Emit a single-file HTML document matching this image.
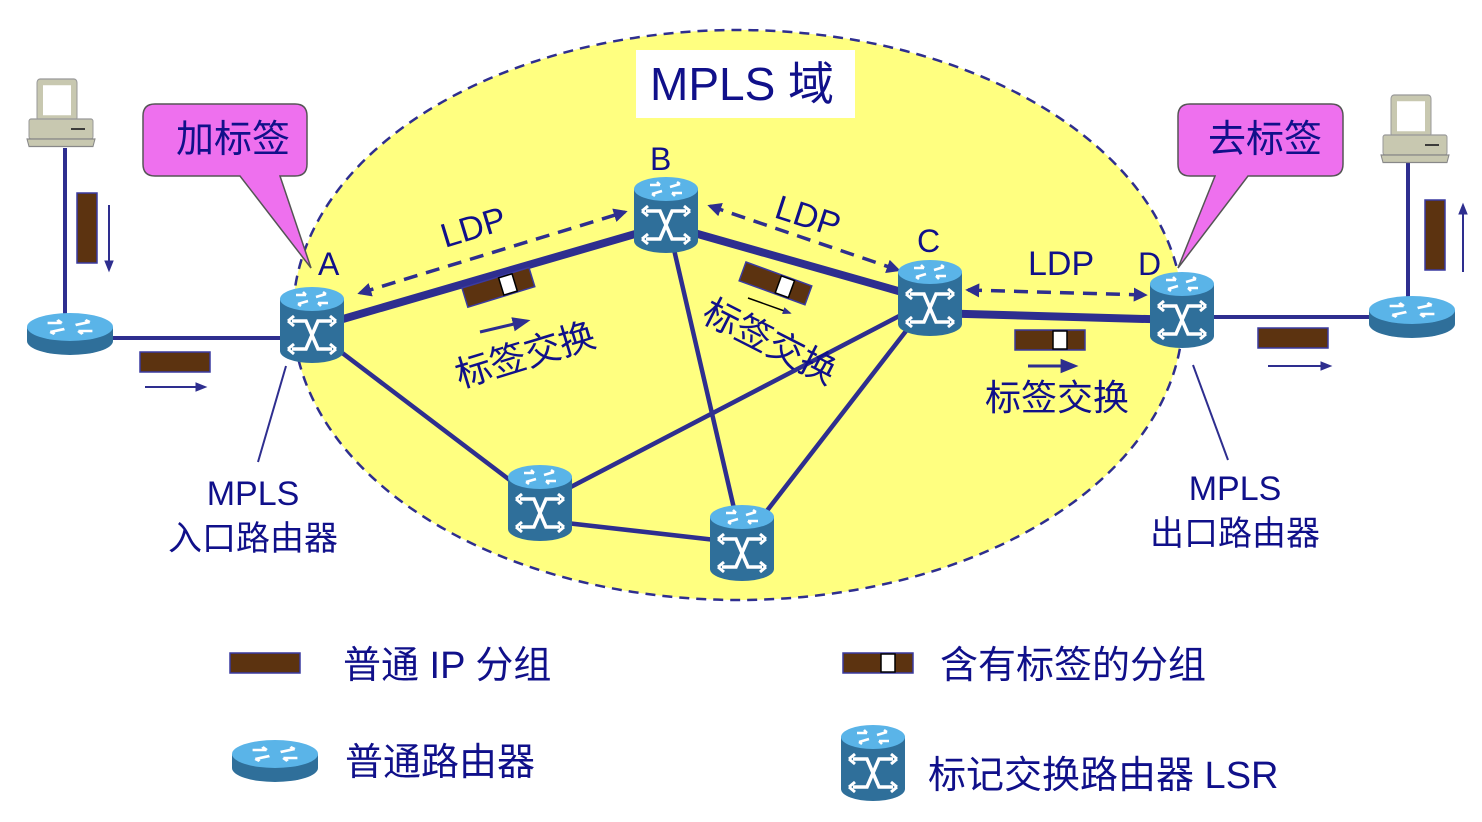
<!DOCTYPE html>
<html><head><meta charset="utf-8"><style>
html,body{margin:0;padding:0;background:#fff;}
svg{display:block;}
text{font-family:"Liberation Sans","Noto Sans CJK SC",sans-serif;fill:#10108a;}
</style></head><body>
<svg width="1482" height="822" viewBox="0 0 1482 822" xmlns="http://www.w3.org/2000/svg">
<defs>
<marker id="ah" viewBox="0 0 10 10" refX="8" refY="5" markerWidth="4" markerHeight="4" orient="auto-start-reverse"><path d="M0,0 L10,5 L0,10 z" fill="#2e2e8f"/></marker>
<marker id="ah2" viewBox="0 0 10 10" refX="8" refY="5" markerWidth="6" markerHeight="6" orient="auto-start-reverse"><path d="M0,1 L10,5 L0,9 z" fill="#2e2e8f"/></marker>
<g id="xarrows" fill="none" stroke="#fff" stroke-width="3.5">
  <path d="M-20,-14 L-6,-14 L6,14 L20,14 M-20,14 L-6,14 L6,-14 L20,-14"/>
  <path d="M-24,-14 l6,-5 M-24,-14 l6,5 M24,-14 l-6,-5 M24,-14 l-6,5 M-24,14 l6,-5 M-24,14 l6,5 M24,14 l-6,-5 M24,14 l-6,5" stroke-width="3"/>
</g>
<g id="topx" fill="none" stroke="#fff" stroke-width="2.5">
  <path d="M-16,-4 l10,0 M-6,-4 l-3,-3 M6,4 l10,0 M6,4 l3,3 M-14,5 l10,-3 M-14,5 l3,2 M14,-5 l-10,3 M14,-5 l-3,-2"/>
</g>
<g id="lsr">
  <path d="M-32,-26 L-32,26 A32,12 0 0 0 32,26 L32,-26 z" fill="#2f6f9a"/>
  <ellipse cx="0" cy="-26" rx="32" ry="12" fill="#5ab4e8"/>
  <use href="#topx" transform="translate(0,-26)"/>
  <use href="#xarrows" transform="translate(0,10)"/>
</g>
<g id="rtr">
  <path d="M-43,-6 L-43,8 A43,14 0 0 0 43,8 L43,-6 z" fill="#2f6f9a"/>
  <ellipse cx="0" cy="-6" rx="43" ry="14" fill="#5ab4e8"/>
  <use href="#topx" transform="translate(0,-6) scale(1.4,1)"/>
</g>
<g id="pc">
  <rect x="-24" y="-36" width="40" height="34" rx="3" fill="#c8c8b0" stroke="#999" />
  <rect x="-18" y="-31" width="28" height="24" fill="#fff"/>
  <rect x="-32" y="-4" width="64" height="16" rx="2" fill="#c8c8b0" stroke="#999"/>
  <line x1="10" y1="4" x2="24" y2="4" stroke="#333" stroke-width="1.5"/>
  <path d="M-34,12 L34,12 L32,18 L-32,18 z" fill="#c8c8b0" stroke="#888"/>
</g>
<g id="pkt"><rect x="0" y="0" width="70" height="20" fill="#5c3310" stroke="#3a3aa0" stroke-width="1.5"/></g>
<g id="lpkt"><rect x="0" y="0" width="70" height="20" fill="#5c3310" stroke="#3a3aa0" stroke-width="1.5"/><rect x="38" y="1" width="14" height="18" fill="#fff" stroke="#000" stroke-width="1.5"/></g>
</defs>

<ellipse cx="738" cy="315" rx="445" ry="285" fill="#ffff80" stroke="#2e2e8f" stroke-width="2.5" stroke-dasharray="10,7"/>
<rect x="636" y="50" width="219" height="68" fill="#fff"/>
<text x="650" y="100" font-size="46">MPLS 域</text>

<line x1="65" y1="148" x2="65" y2="318" stroke="#2e2e8f" stroke-width="4"/>
<line x1="110" y1="338" x2="290" y2="338" stroke="#2e2e8f" stroke-width="4"/>
<line x1="1408" y1="162" x2="1408" y2="300" stroke="#2e2e8f" stroke-width="4"/>
<line x1="1205" y1="317" x2="1375" y2="317" stroke="#2e2e8f" stroke-width="4"/>

<g stroke="#2e2e8f" stroke-width="4.5">
<line x1="312" y1="330" x2="540" y2="503"/>
<line x1="540" y1="503" x2="930" y2="300"/>
<line x1="666" y1="215" x2="742" y2="543"/>
<line x1="742" y1="543" x2="930" y2="300"/>
<line x1="540" y1="520" x2="742" y2="543"/>
</g>
<g stroke="#2e2e8f" stroke-width="8">
<line x1="312" y1="328" x2="666" y2="225"/>
<line x1="666" y1="225" x2="930" y2="300"/>
<line x1="930" y1="313" x2="1182" y2="320"/>
</g>

<line x1="258" y1="462" x2="286" y2="366" stroke="#2e2e8f" stroke-width="2"/>
<line x1="1228" y1="460" x2="1193" y2="365" stroke="#2e2e8f" stroke-width="2"/>

<g stroke="#2e2e8f" stroke-width="3.5" stroke-dasharray="14,9" fill="none">
<line x1="360" y1="293" x2="625" y2="212" marker-start="url(#ah)" marker-end="url(#ah)"/>
<line x1="710" y1="206" x2="898" y2="270" marker-start="url(#ah)" marker-end="url(#ah)"/>
<line x1="968" y1="290" x2="1145" y2="295" marker-start="url(#ah)" marker-end="url(#ah)"/>
</g>
<text font-size="34" transform="translate(445,248) rotate(-17)">LDP</text>
<text font-size="34" transform="translate(773,217) rotate(18)">LDP</text>
<text x="1028" y="275" font-size="34">LDP</text>

<use href="#lpkt" transform="translate(462,288) rotate(-17)"/>
<line x1="480" y1="332" x2="527" y2="321" stroke="#2e2e8f" stroke-width="3" marker-end="url(#ah2)"/>
<text font-size="36" transform="translate(460,388) rotate(-17)">标签交换</text>
<use href="#lpkt" transform="translate(746,262) rotate(20)"/>
<line x1="748" y1="298" x2="790" y2="313" stroke="#000" stroke-width="1.5" marker-end="url(#ah2)"/>
<text font-size="36" transform="translate(700,320) rotate(27)">标签交换</text>
<use href="#lpkt" transform="translate(1015,330)"/>
<line x1="1028" y1="366" x2="1075" y2="366" stroke="#2e2e8f" stroke-width="3" marker-end="url(#ah2)"/>
<text x="985" y="410" font-size="36">标签交换</text>

<use href="#pkt" transform="translate(97,193) rotate(90)"/>
<line x1="109" y1="205" x2="109" y2="270" stroke="#2e2e8f" stroke-width="2" marker-end="url(#ah2)"/>
<use href="#pkt" transform="translate(140,352)"/>
<line x1="145" y1="387" x2="205" y2="387" stroke="#2e2e8f" stroke-width="2" marker-end="url(#ah2)"/>
<use href="#pkt" transform="translate(1445,200) rotate(90)"/>
<line x1="1463" y1="272" x2="1463" y2="205" stroke="#2e2e8f" stroke-width="2" marker-end="url(#ah2)"/>
<use href="#pkt" transform="translate(1258,328)"/>
<line x1="1268" y1="366" x2="1330" y2="366" stroke="#2e2e8f" stroke-width="2" marker-end="url(#ah2)"/>

<use href="#pc" transform="translate(61,124) scale(1,1.25)"/>
<use href="#pc" transform="translate(1415,140) scale(1,1.25)"/>
<use href="#rtr" transform="translate(70,333)"/>
<use href="#rtr" transform="translate(1412,316)"/>
<use href="#lsr" transform="translate(312,325)"/>
<use href="#lsr" transform="translate(666,215)"/>
<use href="#lsr" transform="translate(930,298)"/>
<use href="#lsr" transform="translate(1182,310)"/>
<use href="#lsr" transform="translate(540,503)"/>
<use href="#lsr" transform="translate(742,543)"/>

<text x="318" y="275" font-size="32">A</text>
<text x="650" y="170" font-size="32">B</text>
<text x="917" y="252" font-size="32">C</text>
<text x="1138" y="275" font-size="32">D</text>

<path d="M155,104 L295,104 Q307,104 307,116 L307,164 Q307,176 295,176 L280,176 L311,268 L240,176 L155,176 Q143,176 143,164 L143,116 Q143,104 155,104 z" fill="#ee70ee" stroke="#555" stroke-width="1.5"/>
<text x="176" y="152" font-size="38">加标签</text>
<path d="M1190,104 L1331,104 Q1343,104 1343,116 L1343,164 Q1343,176 1331,176 L1248,176 L1178,268 L1215,176 L1190,176 Q1178,176 1178,164 L1178,116 Q1178,104 1190,104 z" fill="#ee70ee" stroke="#555" stroke-width="1.5"/>
<text x="1208" y="152" font-size="38">去标签</text>

<text x="253" y="505" font-size="34" text-anchor="middle">MPLS</text>
<text x="253" y="550" font-size="34" text-anchor="middle">入口路由器</text>
<text x="1235" y="500" font-size="34" text-anchor="middle">MPLS</text>
<text x="1235" y="545" font-size="34" text-anchor="middle">出口路由器</text>

<use href="#pkt" transform="translate(230,653)"/>
<text x="343" y="678" font-size="38">普通 IP 分组</text>
<use href="#lpkt" transform="translate(843,653)"/>
<text x="940" y="678" font-size="38">含有标签的分组</text>
<use href="#rtr" transform="translate(275,760)"/>
<text x="345" y="775" font-size="38">普通路由器</text>
<use href="#lsr" transform="translate(873,763)"/>
<text x="928" y="788" font-size="38">标记交换路由器 LSR</text>
</svg>
</body></html>
